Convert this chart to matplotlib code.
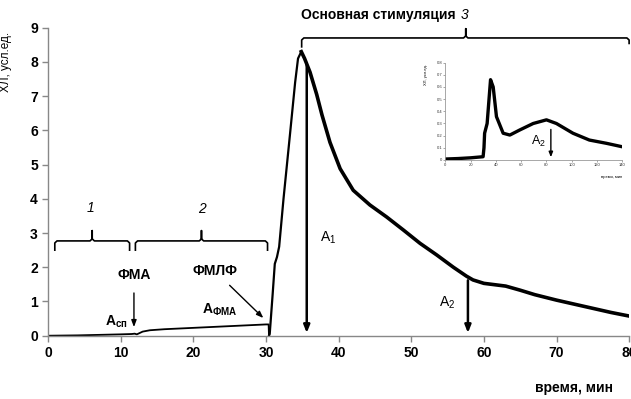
import matplotlib
matplotlib.use("Agg")
import matplotlib.pyplot as plt

plt.rcParams['font.family'] = ['Liberation Sans', 'DejaVu Sans']
plt.rcParams['mathtext.fontset'] = 'custom'
plt.rcParams['mathtext.rm'] = 'Liberation Sans'
plt.rcParams['mathtext.it'] = 'Liberation Sans:italic'
plt.rcParams['mathtext.bf'] = 'Liberation Sans:bold'

# spontaneous + PMA phase (0 .. 30.4 min)
base_x = [0, 2, 4, 6, 8, 10, 11.5, 11.9, 12.2, 13, 14, 16, 18, 20, 22, 24, 26, 28, 30, 30.35, 30.4]
base_y = [0, 0.005, 0.01, 0.02, 0.03, 0.04, 0.05, 0.06, 0.04, 0.12, 0.16, 0.19, 0.21, 0.23, 0.25,
          0.27, 0.29, 0.31, 0.33, 0.33, 0.0]
# fMLF burst
rise_x = [30.4, 30.5, 30.9, 31.2, 31.5, 31.8, 32.4, 33.3, 34.0, 34.4, 34.85]
rise_y = [0.0, 0.05, 1.2, 2.1, 2.3, 2.6, 4.0, 5.9, 7.4, 8.1, 8.3]
decay_x = [34.85, 35.3, 36.05, 36.97, 37.7, 38.8, 40.2, 42.0, 44.3, 46.6, 48.9, 51.2, 53.5, 55.8,
           57.6, 58.5, 60, 61.5, 63, 65, 67, 70, 72.5, 75, 77.5, 80]
decay_y = [8.3, 8.1, 7.7, 7.05, 6.45, 5.65, 4.88, 4.25, 3.82, 3.47, 3.09, 2.70, 2.36, 2.0,
           1.74, 1.63, 1.53, 1.49, 1.45, 1.33, 1.2, 1.04, 0.92, 0.8, 0.68, 0.575]

# inset curve (0 .. 140 min)
ins_x = [0, 10, 20, 29.8, 30.5, 31, 33, 35.7, 37.8, 40.4, 45.7, 51, 58.9, 69.5, 80, 87.9, 101,
         114, 127.6, 139.5]
ins_y = [0.008, 0.012, 0.018, 0.027, 0.1, 0.22, 0.30, 0.66, 0.60, 0.356, 0.22, 0.205, 0.247, 0.30,
         0.33, 0.30, 0.22, 0.164, 0.137, 0.11]

xticks = list(range(0, 81, 10))
yticks = list(range(0, 10))
ins_xticks = list(range(0, 141, 20))
ins_yticks = [0, 0.1, 0.2, 0.3, 0.4, 0.5, 0.6, 0.7, 0.8]

fig = plt.figure(figsize=(6.31, 3.99), dpi=100)
ax = fig.add_axes([0.0765, 0.1586, 0.9205, 0.772])

ax.plot(base_x, base_y, color='black', lw=1.3)
ax.plot(rise_x, rise_y, color='black', lw=1.6)
ax.plot(decay_x, decay_y, color='black', lw=2.6, solid_joinstyle='round')

ax.set_xlim(0, 80)
ax.set_ylim(0, 9)
ax.set_xticks(xticks)
ax.set_yticks(yticks)
for s in ['top', 'right']:
    ax.spines[s].set_visible(False)
for s in ['left', 'bottom']:
    ax.spines[s].set_color('#888888')
    ax.spines[s].set_linewidth(1.0)
ax.tick_params(colors='#888888', length=4, width=1, labelcolor='black', labelsize=10)
for lab in ax.get_xticklabels() + ax.get_yticklabels():
    lab.set_fontweight('bold')
ax.set_ylabel('ХЛ, усл.ед.', fontsize=8.5)
ax.yaxis.set_label_coords(-0.063, 0.89)
fig.text(0.972, 0.028, 'время, мин', fontsize=10, fontweight='bold', ha='right', va='center')

arr_thick = dict(arrowstyle='-|>,head_length=0.45,head_width=0.18', color='black', lw=1.8)
arr_thin = dict(arrowstyle='-|>,head_length=0.4,head_width=0.15', color='black', lw=1.0)
ax.annotate('', xy=(35.6, 0.0), xytext=(35.6, 8.05), arrowprops=arr_thick)
ax.annotate('', xy=(57.8, 0.0), xytext=(57.8, 1.7), arrowprops=arr_thick)
ax.annotate('', xy=(11.8, 0.17), xytext=(11.8, 1.33), arrowprops=arr_thin)
ax.annotate('', xy=(29.9, 0.46), xytext=(24.7, 1.53), arrowprops=arr_thin)

ax.text(38.6, 2.87, r'A$_1$', fontsize=10, ha='center', va='center')
ax.text(54.9, 0.95, r'A$_2$', fontsize=10, ha='center', va='center')
ax.text(9.4, 0.41, r'$\mathbf{A_{сп}}$', fontsize=10, ha='center', va='center')
ax.text(23.6, 0.77, r'$\mathbf{A_{ФМА}}$', fontsize=10, ha='center', va='center')
ax.text(11.9, 1.77, 'ФМА', fontsize=10, fontweight='bold', ha='center', va='center')
ax.text(23.0, 1.89, 'ФМЛФ', fontsize=10, fontweight='bold', ha='center', va='center')


def brace(x0, x1, y0, y1, tip, clip=True):
    xc = (x0 + x1) / 2
    bx = [x0, x0, x0 + 0.3, xc - 0.3, xc, xc, xc, xc + 0.3, x1 - 0.3, x1, x1]
    by = [y0, y1 - 0.06, y1, y1, y1 + 0.06, tip, y1 + 0.06, y1, y1, y1 - 0.06, y0]
    ax.plot(bx, by, color='black', lw=1.2, clip_on=clip)


brace(0.9, 11.2, 2.5, 2.77, 3.07)
brace(12.0, 30.2, 2.5, 2.77, 3.07)
# top bracket (not symmetric)
top_x = [34.9, 34.9, 35.2, 57.2, 57.5, 57.5, 57.5, 57.8, 79.7, 80.0, 80.0]
top_y = [8.44, 8.64, 8.70, 8.70, 8.76, 8.97, 8.76, 8.70, 8.70, 8.64, 8.54]
ax.plot(top_x, top_y, color='black', lw=1.2, clip_on=False)
ax.text(5.84, 3.72, '1', fontsize=10, style='italic', ha='center', va='center')
ax.text(21.2, 3.69, '2', fontsize=10, style='italic', ha='center', va='center')
ax.text(57.4, 9.36, '3', fontsize=10, style='italic', ha='center', va='center')
ax.text(45.4, 9.36, 'Основная стимуляция', fontsize=10, fontweight='bold', ha='center', va='center')

# inset
ins = fig.add_axes([0.706, 0.599, 0.280, 0.244])
ins.plot(ins_x, ins_y, color='black', lw=2.4, solid_joinstyle='round')
ins.set_xlim(0, 140)
ins.set_ylim(0, 0.8)
ins.set_xticks(ins_xticks)
ins.set_yticks(ins_yticks)
ins.set_yticklabels(['0'] + [f'{v:.1f}' for v in ins_yticks[1:]])
for s in ['top', 'right']:
    ins.spines[s].set_visible(False)
for s in ['left', 'bottom']:
    ins.spines[s].set_color('#999999')
    ins.spines[s].set_linewidth(0.6)
ins.tick_params(colors='#999999', length=1.5, width=0.6, labelcolor='#333333', labelsize=3, pad=1)
ins.set_ylabel('ХЛ, усл.ед.', fontsize=3, labelpad=1)
ins.yaxis.set_label_coords(-0.1, 0.88)
ins.text(140, -0.14, 'время, мин', fontsize=3, ha='right', va='center')
ins.annotate('', xy=(83.5, 0.0), xytext=(83.5, 0.274),
             arrowprops=dict(arrowstyle='-|>,head_length=0.3,head_width=0.12', color='black', lw=1.0))
ins.text(73.4, 0.15, r'A$_2$', fontsize=9, ha='center', va='center')

fig.savefig('out.png', dpi=100)
